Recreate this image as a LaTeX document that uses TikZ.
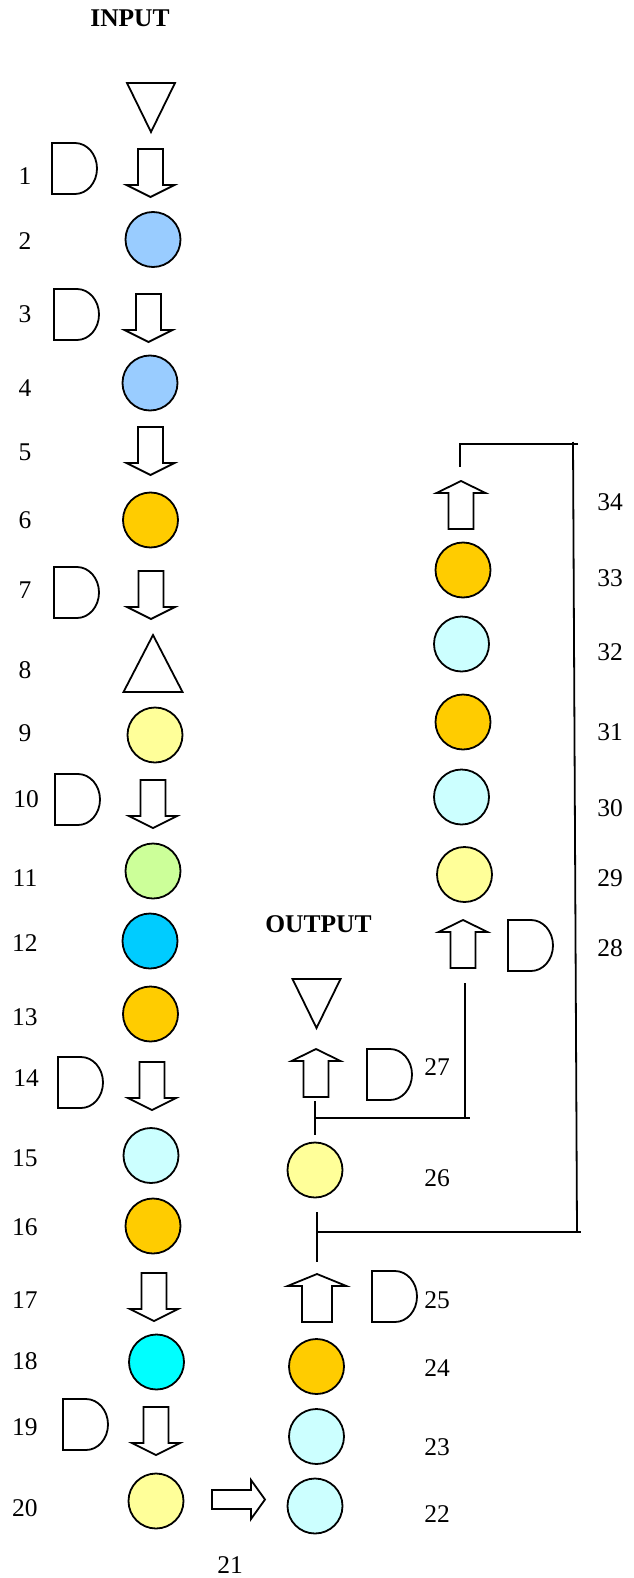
\documentclass[tikz,border=0pt]{standalone}
\usepackage{fontspec}
\setmainfont{Liberation Serif}
\definecolor{cLightBlue}{HTML}{99CCFF}
\definecolor{cOrange}{HTML}{FFCC00}
\definecolor{cYellow}{HTML}{FFFF99}
\definecolor{cGreen}{HTML}{CCFF99}
\definecolor{cSky}{HTML}{00CCFF}
\definecolor{cPale}{HTML}{CCFFFF}
\definecolor{cCyan}{HTML}{00FFFF}
\tikzset{
  shapeline/.style={draw=black, line width=1.8pt, fill=white, line join=miter},
  conn/.style={draw=black, line width=1.8pt},
  ball/.style={circle, draw=black, line width=1.8pt, minimum size=55pt, inner sep=0pt},
  lbl/.style={font=\fontsize{25.5}{30}\selectfont, inner sep=0pt},
  ttl/.style={font=\fontsize{25.5}{30}\selectfont\bfseries, inner sep=0pt},
  % block arrow pointing down, origin at the top of the shaft
  downarrow/.pic={\path[shapeline] (-12.5,0) -- (12.5,0) -- (12.5,36) -- (24,36)
      -- (0,48) -- (-24,36) -- (-12.5,36) -- cycle;},
  % block arrow pointing up, origin at the tip
  uparrow/.pic={\path[shapeline] (0,0) -- (24.5,12) -- (12.5,12) -- (12.5,48)
      -- (-12.5,48) -- (-12.5,12) -- (-24.5,12) -- cycle;},
  % block arrow pointing right, origin at the middle of the tail
  rightarrow/.pic={\path[shapeline] (0,-9.5) -- (39,-9.5) -- (39,-19.5) -- (53,0)
      -- (39,19.5) -- (39,9.5) -- (0,9.5) -- cycle;},
  % D shaped symbol, origin at the top left corner
  dshape/.pic={\path[shapeline] (0,0) -- (23,0) .. controls (35.15,0) and (45,11.42) ..
      (45,25.5) .. controls (45,39.58) and (35.15,51) .. (23,51) -- (0,51) -- cycle;},
  % triangle pointing down, origin at the middle of the top edge
  downtri/.pic={\path[shapeline] (-24,0) -- (24,0) -- (0,49) -- cycle;},
  % triangle pointing up, origin at the apex
  uptri/.pic={\path[shapeline] (0,0) -- (29.5,57) -- (-29.5,57) -- cycle;},
}
\begin{document}
\begin{tikzpicture}[x=1pt, y=-1pt]
\useasboundingbox (0,0) rectangle (633,1578);

% titles
\node[ttl] (input) at (130,18.5) {INPUT};
\node[ttl] (output) at (318.5,924.5) {OUTPUT};

% left column
\pic (tin) at (151,83) {downtri};
\pic (d1) at (52,143) {dshape};
\pic (a1) at (150.5,149) {downarrow};
\node[ball, fill=cLightBlue] (c2) at (153,239.5) {};
\pic (d3) at (54,289) {dshape};
\pic (a3) at (148.5,294) {downarrow};
\node[ball, fill=cLightBlue] (c4) at (150,383) {};
\pic (a5) at (150.5,427) {downarrow};
\node[ball, fill=cOrange] (c6) at (150.5,520) {};
\pic (d7) at (54,567) {dshape};
\pic (a7) at (151,571) {downarrow};
\pic (t8) at (153,635) {uptri};
\node[ball, fill=cYellow] (c9) at (155,735) {};
\pic (d10) at (55,774) {dshape};
\pic (a10) at (153,780) {downarrow};
\node[ball, fill=cGreen] (c11) at (153,871) {};
\node[ball, fill=cSky] (c12) at (150,941) {};
\node[ball, fill=cOrange] (c13) at (150.5,1014) {};
\pic (d14) at (58,1057) {dshape};
\pic (a14) at (152,1062) {downarrow};
\node[ball, fill=cPale] (c15) at (151,1155.5) {};
\node[ball, fill=cOrange] (c16) at (153,1226) {};
\pic (a17) at (154,1273) {downarrow};
\node[ball, fill=cCyan] (c18) at (156.5,1362) {};
\pic (d19) at (63,1399) {dshape};
\pic (a19) at (156,1407) {downarrow};
\node[ball, fill=cYellow] (c20) at (156,1501) {};
\pic (a21) at (212,1499.5) {rightarrow};

% middle column
\node[ball, fill=cPale] (c22) at (315,1506) {};
\node[ball, fill=cPale] (c23) at (316.5,1436.5) {};
\node[ball, fill=cOrange] (c24) at (316.5,1366.5) {};
\pic[xscale=1.2] (a25) at (317,1274) {uparrow};
\pic (d25) at (372,1271) {dshape};
\node[ball, fill=cYellow] (c26) at (315,1170) {};
\pic (a27) at (316,1049) {uparrow};
\pic (d27) at (367,1049) {dshape};
\pic (tout) at (316.5,979) {downtri};

% right column
\pic (a28) at (463,920) {uparrow};
\pic (d28) at (508,920) {dshape};
\node[ball, fill=cYellow] (c29) at (464.5,874.5) {};
\node[ball, fill=cPale] (c30) at (461.5,797) {};
\node[ball, fill=cOrange] (c31) at (463,722) {};
\node[ball, fill=cPale] (c32) at (461.5,644) {};
\node[ball, fill=cOrange] (c33) at (463,570) {};
\pic (a34) at (461,481) {uparrow};

% feedback lines
\coordinate (s27) at (315,1101);
\coordinate (e26) at (315,1135);
\coordinate (ja) at (315,1118);
\coordinate (jaEnd) at (470,1118);
\coordinate (s28) at (465,983);
\coordinate (ja28) at (465,1118);
\coordinate (s26) at (317,1212);
\coordinate (e25) at (317,1262);
\coordinate (jb) at (317,1232);
\coordinate (jbEnd) at (581,1232);
\coordinate (rb) at (577,1232);
\coordinate (rt) at (573,442);
\coordinate (tl) at (460,444);
\coordinate (tr) at (578,444);
\coordinate (e34) at (460,467);
\draw[conn] (s27) -- (e26);
\draw[conn] (ja) -- (jaEnd);
\draw[conn] (s28) -- (ja28);
\draw[conn] (s26) -- (e25);
\draw[conn] (jb) -- (jbEnd);
\draw[conn] (rb) -- (rt);
\draw[conn] (tr) -- (tl) -- (e34);

% numbering
\node[lbl] (n1) at (25,176) {1};
\node[lbl] (n2) at (25,241) {2};
\node[lbl] (n3) at (25,314) {3};
\node[lbl] (n4) at (25,388) {4};
\node[lbl] (n5) at (25,452) {5};
\node[lbl] (n6) at (25,520) {6};
\node[lbl] (n7) at (25,590) {7};
\node[lbl] (n8) at (25,670) {8};
\node[lbl] (n9) at (25,733) {9};
\node[lbl] (n10) at (26,799) {10};
\node[lbl] (n11) at (25,878) {11};
\node[lbl] (n12) at (25,943) {12};
\node[lbl] (n13) at (25,1017) {13};
\node[lbl] (n14) at (26,1078) {14};
\node[lbl] (n15) at (25,1158) {15};
\node[lbl] (n16) at (25,1227) {16};
\node[lbl] (n17) at (25,1300) {17};
\node[lbl] (n18) at (25,1361) {18};
\node[lbl] (n19) at (25,1427) {19};
\node[lbl] (n20) at (25,1508) {20};
\node[lbl] (n21) at (230,1565) {21};
\node[lbl] (n22) at (437,1514) {22};
\node[lbl] (n23) at (437,1447) {23};
\node[lbl] (n24) at (437,1368) {24};
\node[lbl] (n25) at (437,1300) {25};
\node[lbl] (n26) at (437,1178) {26};
\node[lbl] (n27) at (437,1067) {27};
\node[lbl] (n28) at (610,948) {28};
\node[lbl] (n29) at (610,878) {29};
\node[lbl] (n30) at (610,808) {30};
\node[lbl] (n31) at (610,732) {31};
\node[lbl] (n32) at (610,652) {32};
\node[lbl] (n33) at (610,578) {33};
\node[lbl] (n34) at (610,502) {34};
\end{tikzpicture}
\end{document}
